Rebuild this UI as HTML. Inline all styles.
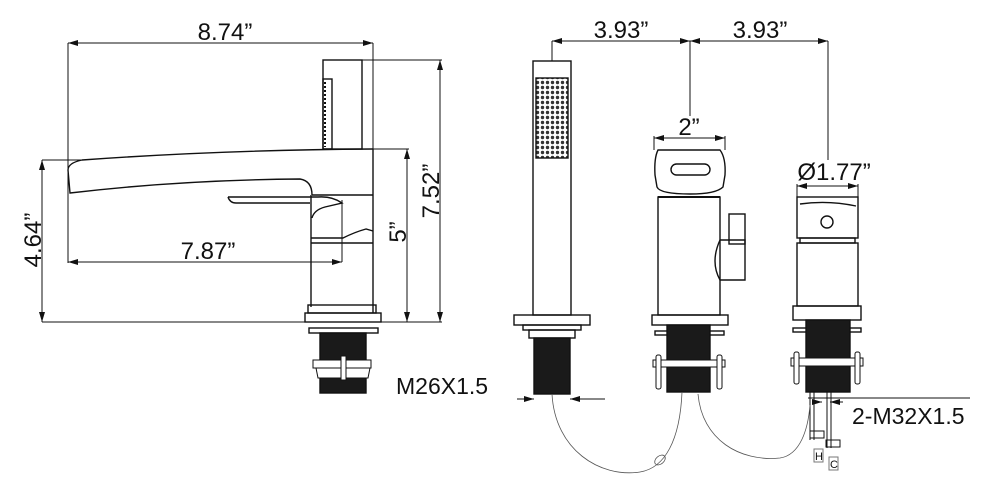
<!DOCTYPE html>
<html><head><meta charset="utf-8"><style>
html,body{margin:0;padding:0;background:#fff;}
svg{display:block;}
text{font-family:"Liberation Sans",sans-serif;fill:#111;}
</style></head><body>
<svg width="990" height="494" viewBox="0 0 990 494" xmlns="http://www.w3.org/2000/svg">
<defs>
<marker id="a" viewBox="0 0 10 6" refX="10" refY="3" markerWidth="15" markerHeight="6" orient="auto-start-reverse" markerUnits="userSpaceOnUse"><path d="M0,0 L10,3 L0,6 Z" fill="#111"/></marker>
<pattern id="dots" width="5" height="5" patternUnits="userSpaceOnUse"><circle cx="2.5" cy="2.5" r="1.7" fill="#333"/></pattern>
</defs>
<g fill="none" stroke="#111" stroke-width="1">
<!-- LEFT VIEW dims -->
<line x1="68" y1="43" x2="373" y2="43" marker-start="url(#a)" marker-end="url(#a)"/>
<line x1="68" y1="43" x2="68" y2="263"/>
<line x1="373" y1="43" x2="373" y2="150"/>
<line x1="362" y1="60" x2="442" y2="60"/>
<line x1="440" y1="60" x2="440" y2="322" marker-start="url(#a)" marker-end="url(#a)"/>
<line x1="373" y1="149" x2="409" y2="149"/>
<line x1="407" y1="149" x2="407" y2="322" marker-start="url(#a)" marker-end="url(#a)"/>
<line x1="42" y1="160" x2="82" y2="160"/>
<line x1="42" y1="160" x2="42" y2="322" marker-start="url(#a)" marker-end="url(#a)"/>
<line x1="42" y1="322" x2="442" y2="322"/>
<line x1="68" y1="262" x2="342" y2="262" marker-start="url(#a)" marker-end="url(#a)"/>
<line x1="342" y1="200" x2="342" y2="262"/>
<g stroke-width="1.4">
<!-- hand shower side -->
<rect x="323" y="60" width="39" height="89"/>
<rect x="323" y="79" width="9" height="70"/>
<line x1="325" y1="82" x2="325" y2="147" stroke-dasharray="2,2" stroke-width="2"/>
<!-- spout -->
<path d="M82,160 Q220,150 373,149"/>
<path d="M82,160 Q68,163 68,170 L70,193 Q180,180 300,179 Q312,181 312,195"/>
<line x1="312" y1="195" x2="373" y2="195"/>
<line x1="311" y1="195" x2="311" y2="307"/>
<line x1="373" y1="149" x2="373" y2="313"/>
<!-- lever -->
<path d="M228,197 L318,197 Q332,196 342,203 L325,207 Q314,210 312,218"/>
<path d="M228,197 Q230,203 236,203 L310,203"/>
<path d="M311,238 L343,238 Q355,232 366,229 L373,231"/>
<line x1="311" y1="243" x2="373" y2="243"/>
<!-- base -->
<rect x="308" y="305" width="68" height="8"/>
<rect x="305" y="313" width="76" height="9"/>
<rect x="309" y="328" width="69" height="5"/>
<rect x="320" y="333" width="46" height="60" fill="#1a1a1a"/>
<rect x="313" y="360" width="58" height="8" fill="#fff" stroke-width="1"/>
<path d="M316,368 L370,368 L368,378 L318,378 Z" fill="#fff" stroke-width="1"/>
<rect x="341" y="356" width="5" height="24" fill="#fff" stroke-width="1"/>
<!-- HAND SHOWER -->
<rect x="533" y="61" width="38" height="254"/>
<rect x="536" y="78" width="32" height="80" fill="url(#dots)"/>
<rect x="514" y="315" width="76" height="10"/>
<rect x="523" y="325" width="58" height="5"/>
<rect x="529" y="330" width="46" height="8"/>
<rect x="534" y="338" width="36" height="56" fill="#1a1a1a"/>
<!-- MIDDLE VALVE -->
<path d="M658,150 L720,150 Q726,158 725,175 L723,187 Q716,194 690,194 Q660,194 657,187 L655,175 Q654,158 658,150 Z"/>
<rect x="671" y="164" width="39" height="11" rx="5.5"/>
<rect x="658" y="197" width="62" height="118"/>
<line x1="658" y1="197" x2="720" y2="197" stroke-width="2"/>
<rect x="729" y="214" width="16" height="30"/>
<path d="M720,240 L745,240 L745,280 L720,280 Q710,262 720,240 Z"/>
<rect x="652" y="315" width="76" height="10"/>
<rect x="655" y="331" width="69" height="4"/>
<rect x="667" y="325" width="43" height="67" fill="#1a1a1a"/>
<rect x="653" y="360" width="72" height="7" fill="#fff" stroke-width="1"/>
<rect x="656" y="355" width="5" height="34" rx="2" fill="#fff" stroke-width="1"/>
<rect x="717" y="355" width="5" height="34" rx="2" fill="#fff" stroke-width="1"/>
<!-- RIGHT VALVE -->
<rect x="797" y="197" width="61" height="41"/>
<path d="M800,204 Q828,200 856,206"/>
<circle cx="827" cy="222" r="6"/>
<rect x="800" y="238" width="55" height="5"/>
<rect x="797" y="243" width="61" height="63"/>
<rect x="793" y="306" width="68" height="14"/>
<rect x="793" y="328" width="68" height="4"/>
<rect x="806" y="320" width="44" height="72" fill="#1a1a1a"/>
<rect x="791" y="358" width="72" height="8" fill="#fff" stroke-width="1"/>
<rect x="794" y="352" width="5" height="32" rx="2" fill="#fff" stroke-width="1"/>
<rect x="855" y="352" width="5" height="32" rx="2" fill="#fff" stroke-width="1"/>
</g>
<line x1="517" y1="399" x2="534" y2="399" marker-end="url(#a)"/>
<line x1="605" y1="399" x2="570" y2="399" marker-end="url(#a)"/>
<line x1="552" y1="41" x2="690" y2="41" marker-start="url(#a)" marker-end="url(#a)"/>
<line x1="690" y1="41" x2="828" y2="41" marker-start="url(#a)" marker-end="url(#a)"/>
<line x1="552" y1="41" x2="552" y2="61"/>
<line x1="690" y1="41" x2="690" y2="116"/>
<line x1="828" y1="41" x2="828" y2="160"/>
<line x1="654" y1="138" x2="725" y2="138" marker-start="url(#a)" marker-end="url(#a)"/>
<line x1="654" y1="136" x2="654" y2="150"/>
<line x1="725" y1="136" x2="725" y2="150"/>
<line x1="797" y1="186" x2="858" y2="186" marker-start="url(#a)" marker-end="url(#a)"/>
<line x1="797" y1="184" x2="797" y2="198"/>
<line x1="858" y1="184" x2="858" y2="198"/>
<line x1="808" y1="398" x2="970" y2="398"/>
<line x1="812" y1="402" x2="822" y2="402" marker-end="url(#a)"/>
<line x1="843" y1="402" x2="830" y2="402" marker-end="url(#a)"/>
<line x1="810" y1="392" x2="810" y2="440"/><line x1="814" y1="392" x2="814" y2="440"/>
<line x1="827" y1="392" x2="827" y2="448"/><line x1="831" y1="392" x2="831" y2="448"/>
<rect x="810" y="431" width="14" height="7"/>
<rect x="826" y="440" width="14" height="7"/>
<rect x="814" y="449" width="9" height="13" stroke="#777"/>
<rect x="829" y="457" width="9" height="13" stroke="#777"/>
<g stroke="#555" stroke-width="0.8">
<path d="M552,394 C555,450 600,478 640,472 C665,468 680,440 682,392"/>
<ellipse cx="660" cy="460" rx="6" ry="4" transform="rotate(-40 660 460)"/>
<path d="M698,394 C702,440 740,462 780,458 C800,455 808,430 810,405"/>
</g>
</g>
<g font-size="24">
<text x="225" y="40" text-anchor="middle">8.74”</text>
<text x="208" y="259" text-anchor="middle">7.87”</text>
<text transform="translate(439,191) rotate(-90)" text-anchor="middle">7.52”</text>
<text transform="translate(406,232) rotate(-90)" text-anchor="middle">5”</text>
<text transform="translate(41,240) rotate(-90)" text-anchor="middle">4.64”</text>
<text x="621" y="38" text-anchor="middle">3.93”</text>
<text x="760" y="38" text-anchor="middle">3.93”</text>
<text x="689" y="135" text-anchor="middle">2”</text>
<text x="834" y="180" text-anchor="middle">Ø1.77”</text>
</g>
<text x="396" y="394" font-size="23">M26X1.5</text>
<text x="852" y="424" font-size="23">2-M32X1.5</text>
<text x="815" y="460" font-size="11" font-family="Liberation Serif,serif">H</text>
<text x="830" y="468" font-size="11" font-family="Liberation Serif,serif">C</text>
</svg>
</body></html>
